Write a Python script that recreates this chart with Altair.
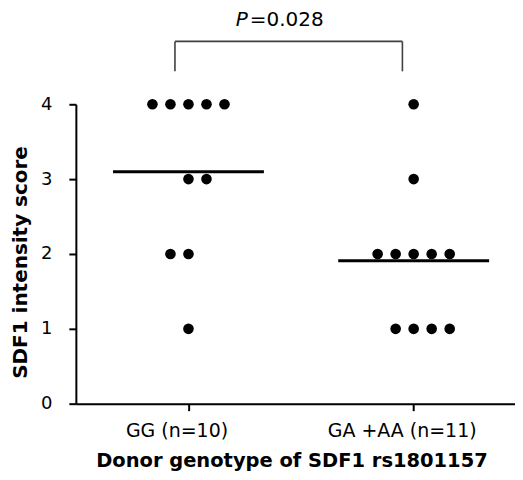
import altair as alt
import pandas as pd

# ---- data ----
group_labels = ["GG (n=10)", "GA +AA (n=11)"]
group_pos = [1, 2]

gg_scores = [4, 4, 4, 4, 4, 3, 3, 2, 2, 1]
gg_slots = [-2, -1, 0, 1, 2, 0, 1, -1, 0, 0]

ga_scores = [4, 3, 2, 2, 2, 2, 2, 1, 1, 1, 1]
ga_slots = [0, 0, -2, -1, 0, 1, 2, -1, 0, 1, 2]

p_label = "=0.028"

# ---- build tables ----
slot_step = 0.08
rows = []
for s, k in zip(gg_scores, gg_slots):
    rows.append({"x": group_pos[0] + k * slot_step, "score": s, "group": group_labels[0]})
for s, k in zip(ga_scores, ga_slots):
    rows.append({"x": group_pos[1] + k * slot_step, "score": s, "group": group_labels[1]})
points = pd.DataFrame(rows)

half = 0.335
means = pd.DataFrame({
    "x": [group_pos[0] - half, group_pos[1] - half],
    "x2": [group_pos[0] + half, group_pos[1] + half],
    "mean": [sum(gg_scores) / len(gg_scores), sum(ga_scores) / len(ga_scores)],
})

br_left, br_right, br_top, br_bottom = 0.94, 1.95, 4.84, 4.44
bracket = pd.DataFrame({
    "x": [br_left, br_left, br_right],
    "x2": [br_right, br_left, br_right],
    "y": [br_top, br_top, br_top],
    "y2": [br_top, br_bottom, br_bottom],
})
ptext = pd.DataFrame({"x": [1.268], "y": [5.12]})

xscale = alt.Scale(domain=[0.5, 2.45], nice=False, zero=False)
yscale = alt.Scale(domain=[0, 4], nice=False)

label_expr = "datum.value == 1 ? '%s' : '%s'" % (group_labels[0], group_labels[1])

xaxis = alt.Axis(
    values=group_pos, labelExpr=label_expr, grid=False,
    domainColor="black", domainWidth=2, tickColor="black", tickWidth=2, tickSize=7,
    labelFont="DejaVu Sans", labelFontSize=19, labelColor="black", labelPadding=11, labelOffset=-12,
    title="Donor genotype of SDF1 rs1801157", titleFont="DejaVu Sans", titleFontWeight="bold",
    titleFontSize=19.5, titleColor="black", titleX=216, titleY=63, titleBaseline="alphabetic",
    titleAlign="center",
)
yaxis = alt.Axis(
    values=[0, 1, 2, 3, 4], format="d", grid=False,
    domainColor="black", domainWidth=2, tickColor="black", tickWidth=2, tickSize=7,
    labelFont="DejaVu Sans", labelFontSize=18, labelColor="black", labelPadding=17,
    title="SDF1 intensity score", titleFont="DejaVu Sans", titleFontWeight="bold",
    titleFontSize=20, titleColor="black", titleX=-49, titleY=158, titleAngle=270,
    titleBaseline="alphabetic", titleAlign="center",
)

pts = alt.Chart(points).mark_circle(size=113, color="black", opacity=1).encode(
    x=alt.X("x:Q", scale=xscale, axis=xaxis),
    y=alt.Y("score:Q", scale=yscale, axis=yaxis),
)

mean_rules = alt.Chart(means).mark_rule(color="black", strokeWidth=3).encode(
    x="x:Q", x2="x2:Q", y="mean:Q"
)

br = alt.Chart(bracket).mark_rule(color="#404040", strokeWidth=1.6).encode(
    x="x:Q", x2="x2:Q", y="y:Q", y2="y2:Q"
)

t_p = alt.Chart(ptext).mark_text(
    text="P", font="DejaVu Sans", fontStyle="italic", fontSize=20, align="right",
    baseline="middle", color="black", dx=-1,
).encode(x="x:Q", y="y:Q")
t_v = alt.Chart(ptext).mark_text(
    text=p_label, font="DejaVu Sans", fontSize=20, align="left", baseline="middle",
    color="black", dx=1,
).encode(x="x:Q", y="y:Q")

chart = alt.layer(pts, mean_rules, br, t_p, t_v).properties(
    width=440, height=300,
    autosize=alt.AutoSizeParams(type="none"),
    padding={"left": 68, "top": 96, "right": 0, "bottom": 68},
).configure_view(stroke=None)

chart.save("out.html", embed_options={"renderer": "svg", "actions": False})
